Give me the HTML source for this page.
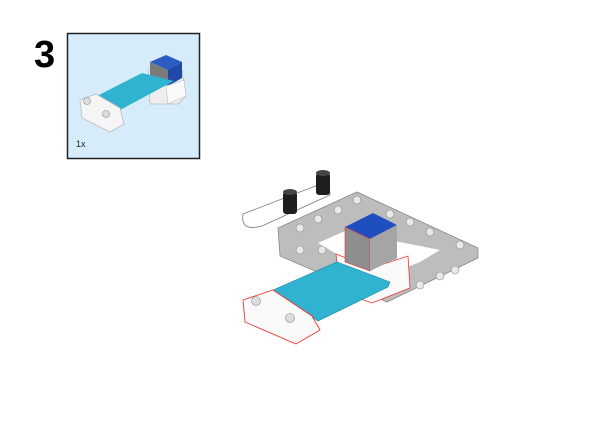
<!DOCTYPE html>
<html><head><style>
html,body{margin:0;padding:0;background:#fff;width:600px;height:424px;overflow:hidden}
</style></head><body>
<svg width="600" height="424" viewBox="0 0 600 424" xmlns="http://www.w3.org/2000/svg">
<text x="34" y="67" font-family="Liberation Sans, sans-serif" font-weight="bold" font-size="38" fill="#000">3</text>
<rect x="67.5" y="33.5" width="132" height="125" fill="#d6ecfb" stroke="#222" stroke-width="1.5"/>
<text x="76" y="147" font-family="Liberation Sans, sans-serif" font-size="9" fill="#222">1x</text>
<path d="M148,70 L182,70 L186,96 L178,104 L150,104 Z" fill="#eee" stroke="#bbb" stroke-width="0.8"/>
<path d="M150,62 L166,55 L182,62 L168,70 Z" fill="#2a5cc4"/>
<path d="M150,62 L168,70 L168,86 L150,80 Z" fill="#7a7a7a"/>
<path d="M168,70 L182,62 L182,78 L168,86 Z" fill="#1f48a8"/>
<path d="M97,96 L142,73 L174,81 L120,110 Z" fill="#2fb3d1"/>
<path d="M80,100 L96,94 L120,108 L124,124 L110,132 L82,118 Z" fill="#f5f5f5" stroke="#bbb" stroke-width="0.8"/>
<circle cx="87" cy="101" r="3.5" fill="#ddd" stroke="#888" stroke-width="0.6"/>
<circle cx="106" cy="114" r="3.5" fill="#ddd" stroke="#888" stroke-width="0.6"/>
<path d="M166,86 L184,80 L186,96 L168,104 Z" fill="#fafafa" stroke="#bbb" stroke-width="0.6"/>
<path d="M243,214 L318,185 Q330,182 330,195 L262,226 Q240,232 243,214 Z" fill="#fff" stroke="#777" stroke-width="0.8"/>
<path d="M278,228 L357,192 L478,248 L478,258 L387,302 L280,256 Z" fill="#bdbdbd" stroke="#888" stroke-width="0.8"/>
<path d="M318,243 L345,231 L440,250 L420,262 L405,268 L350,262 Z" fill="#fff"/>
<g fill="#e8e8e8" stroke="#888" stroke-width="0.6">
<circle cx="300" cy="228" r="4"/><circle cx="318" cy="219" r="4"/><circle cx="338" cy="210" r="4"/><circle cx="357" cy="200" r="4"/>
<circle cx="390" cy="214" r="4"/><circle cx="410" cy="222" r="4"/><circle cx="430" cy="232" r="4"/><circle cx="460" cy="245" r="4"/>
<circle cx="300" cy="250" r="4"/><circle cx="322" cy="250" r="4"/>
<circle cx="420" cy="285" r="4"/><circle cx="440" cy="276" r="4"/><circle cx="455" cy="270" r="4"/>
</g>
<g fill="#1e1e1e">
<rect x="283" y="192" width="14" height="22" rx="3"/><ellipse cx="290" cy="192" rx="7" ry="3" fill="#444"/>
<rect x="316" y="173" width="14" height="22" rx="3"/><ellipse cx="323" cy="173" rx="7" ry="3" fill="#444"/>
</g>
<path d="M336,254 L372,268 L408,256 L410,288 L372,303 L340,292 Z" fill="#fafafa" stroke="#e33" stroke-width="0.8"/>
<circle cx="394" cy="257" r="3" fill="#ddd" stroke="#888" stroke-width="0.5"/>
<path d="M345,227 L373,213 L397,225 L370,239 Z" fill="#1f4fbf"/>
<path d="M345,227 L370,239 L370,271 L345,262 Z" fill="#8e8e8e" stroke="#e33" stroke-width="0.6"/>
<path d="M370,239 L397,225 L397,258 L370,271 Z" fill="#a5a5a5"/>
<path d="M273,290 L337,262 L390,282 L388,287 L318,321 Z" fill="#2fb3d1" stroke="#1a8aa3" stroke-width="0.6"/>
<path d="M243,300 L273,290 L312,316 L320,330 L296,344 L245,322 Z" fill="#fafafa" stroke="#e33" stroke-width="0.9"/>
<circle cx="256" cy="301" r="4.5" fill="#ddd" stroke="#888" stroke-width="0.6"/>
<circle cx="290" cy="318" r="4.5" fill="#ddd" stroke="#888" stroke-width="0.6"/>
</svg>
</body></html>
